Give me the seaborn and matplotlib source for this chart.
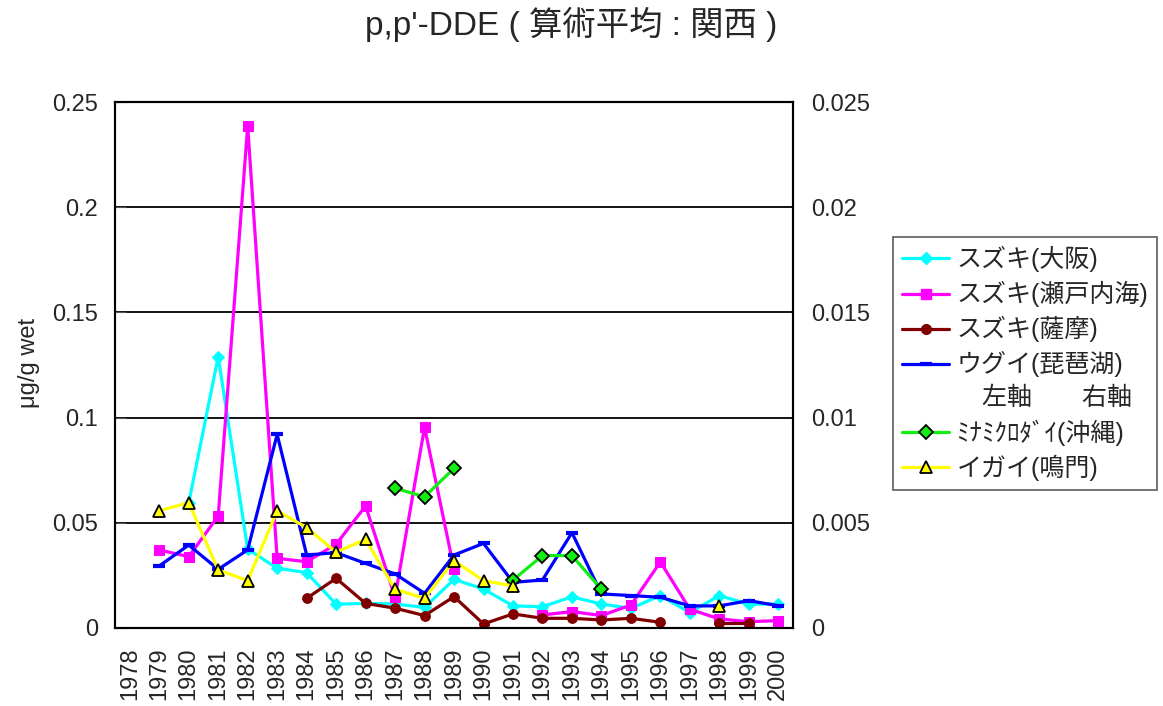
import numpy as np
import pandas as pd
import matplotlib
matplotlib.use('Agg')
import matplotlib.pyplot as plt
from matplotlib.lines import Line2D
from matplotlib.ticker import FixedLocator, FormatStrFormatter
import seaborn as sns

nan = np.nan
years = list(range(1978, 2001))

# left axis series (ug/g wet)
suzuki_osaka = [nan, nan, 0.0594, 0.129, 0.0375, 0.0284, 0.0263, 0.0113, 0.0117, 0.0114, 0.0098, 0.0231,
                0.0185, 0.0105, 0.0101, 0.0148, 0.0114, 0.0093, 0.0154, 0.0073, 0.0154, 0.0113, 0.0114]
suzuki_seto = [nan, 0.0371, 0.0339, 0.0532, 0.2386, 0.0331, 0.0315, 0.0398, 0.058, 0.0146, 0.0954, 0.028,
               nan, nan, 0.0062, 0.0078, 0.0059, 0.0109, 0.0314, 0.0089, 0.0043, 0.003, 0.0035]
suzuki_satsuma = [nan, nan, nan, nan, nan, nan, 0.0141, 0.0236, 0.0117, 0.0094, 0.0059, 0.0149,
                  0.0019, 0.0067, 0.0046, 0.0046, 0.0038, 0.0046, 0.0027, nan, 0.0022, 0.0022, nan]
ugui_biwa = [nan, 0.0295, 0.0394, 0.0279, 0.0371, 0.092, 0.0347, 0.0358, 0.0307, 0.0257, 0.0165, 0.0347,
             0.0402, 0.0217, 0.0228, 0.0453, 0.0162, 0.0154, 0.0146, 0.0105, 0.0105, 0.013, 0.0106]
# right axis series
minamikurodai = [nan, nan, nan, nan, nan, nan, nan, nan, nan, 0.00664, 0.00624, 0.00759,
                 nan, 0.00228, 0.00344, 0.00344, 0.00184, nan, nan, nan, nan, nan, nan]
igai_naruto = [nan, 0.00557, 0.00596, 0.00276, 0.00225, 0.00557, 0.00477, 0.0036, 0.00421, 0.00184, 0.00141, 0.0032,
               0.00225, 0.002, nan, nan, nan, nan, nan, nan, 0.00105, nan, nan]

sns.set_style('white')
plt.rcParams['font.family'] = ['Liberation Sans', 'Noto Sans CJK JP', 'DejaVu Sans']


def to_segments(vals):
    # split a series at gaps so the lines break like in the original
    pos, val, seg = [], [], []
    s = 0
    prev = False
    for i, v in enumerate(vals):
        if np.isnan(v):
            if prev:
                s += 1
            prev = False
            continue
        pos.append(i)
        val.append(v)
        seg.append(s)
        prev = True
    return pd.DataFrame({'pos': pos, 'val': val, 'seg': seg})


fig, ax = plt.subplots(figsize=(11.63, 7.06), dpi=100)
fig.subplots_adjust(left=0.0989, right=0.6819, bottom=0.1105, top=0.8555)
ax2 = ax.twinx()

left_series = [
    ('スズキ(大阪)', suzuki_osaka, dict(color='#00ffff', marker='D', markersize=6, mec='#00ffff')),
    ('スズキ(瀬戸内海)', suzuki_seto, dict(color='#ff00ff', marker='s', markersize=7, mec='#ff00ff')),
    ('スズキ(薩摩)', suzuki_satsuma, dict(color='#800000', marker='o', markersize=7, mec='#800000')),
    ('ウグイ(琵琶湖)', ugui_biwa, dict(color='#0000ff', marker='_', markersize=8, mew=3, mec='#0000ff')),
]
right_series = [
    ('ﾐﾅﾐｸﾛﾀﾞｲ(沖縄)', minamikurodai, dict(color='#11ee11', marker='D', markersize=7, mec='black', mfc='#11ee11', mew=1.3)),
    ('イガイ(鳴門)', igai_naruto, dict(color='#ffff00', marker='^', markersize=9, mec='black', mfc='#ffff00', mew=1.3)),
]

for name, vals, st in left_series:
    d = to_segments(vals)
    sns.lineplot(data=d, x='pos', y='val', units='seg', estimator=None, ax=ax,
                 linewidth=2.3, legend=False, **st)
for name, vals, st in right_series:
    d = to_segments(vals)
    sns.lineplot(data=d, x='pos', y='val', units='seg', estimator=None, ax=ax2,
                 linewidth=2.3, legend=False, **st)

ax.set_xlim(-0.5, len(years) - 0.5)
ax.set_ylim(0, 0.25)
ax2.set_ylim(0, 0.025)
ax.set_yticks([0, 0.05, 0.1, 0.15, 0.2, 0.25])
ax2.set_yticks([0, 0.005, 0.01, 0.015, 0.02, 0.025])
ax.yaxis.set_major_formatter(FormatStrFormatter('%g'))
ax2.yaxis.set_major_formatter(FormatStrFormatter('%g'))
ax.set_xticks(range(len(years)))
ax.set_xticklabels([str(y) for y in years], rotation=90, fontsize=17)
ax.xaxis.set_minor_locator(FixedLocator(np.arange(-0.5, len(years), 1)))
ax.tick_params(axis='x', which='major', length=0, pad=14)
ax.tick_params(axis='x', which='minor', length=6, direction='in', color='#555555')
ax.tick_params(axis='y', labelsize=17, length=8, direction='in', color='#555555', left=True, pad=12)
ax2.tick_params(axis='y', labelsize=17, length=0, right=True, pad=13)
ax.set_xlabel('')
ax.set_ylabel('μg/g wet', fontsize=17)
ax.yaxis.set_label_coords(-0.111, 0.504)
ax2.set_ylabel('')

for g in [0.05, 0.1, 0.15, 0.2]:
    ax.axhline(g, color='black', linewidth=1.3, zorder=0)

for a in (ax, ax2):
    for sp in a.spines.values():
        sp.set_color('black')
        sp.set_linewidth(1.5)

fig.suptitle("p,p'-DDE ( 算術平均 : 関西 )", fontsize=24, x=0.491, y=0.99, va='top')

handles = []
labels = []
for name, vals, st in left_series:
    handles.append(Line2D([], [], linewidth=2.3, **st))
    labels.append(name)
handles.append(Line2D([], [], linestyle='none'))
labels.append('\u3000左軸\u3000\u3000右軸')
for name, vals, st in right_series:
    handles.append(Line2D([], [], linewidth=2.3, **st))
    labels.append(name)

leg = fig.legend(handles, labels, loc='upper left', bbox_to_anchor=(0.768, 0.664),
                 fontsize=18, frameon=True, fancybox=False, edgecolor='#333333',
                 handlelength=1.9, labelspacing=0.36, borderpad=0.35, borderaxespad=0,
                 handletextpad=0.3)
leg.get_frame().set_linewidth(1.2)

fig.savefig('out.png', dpi=100)
